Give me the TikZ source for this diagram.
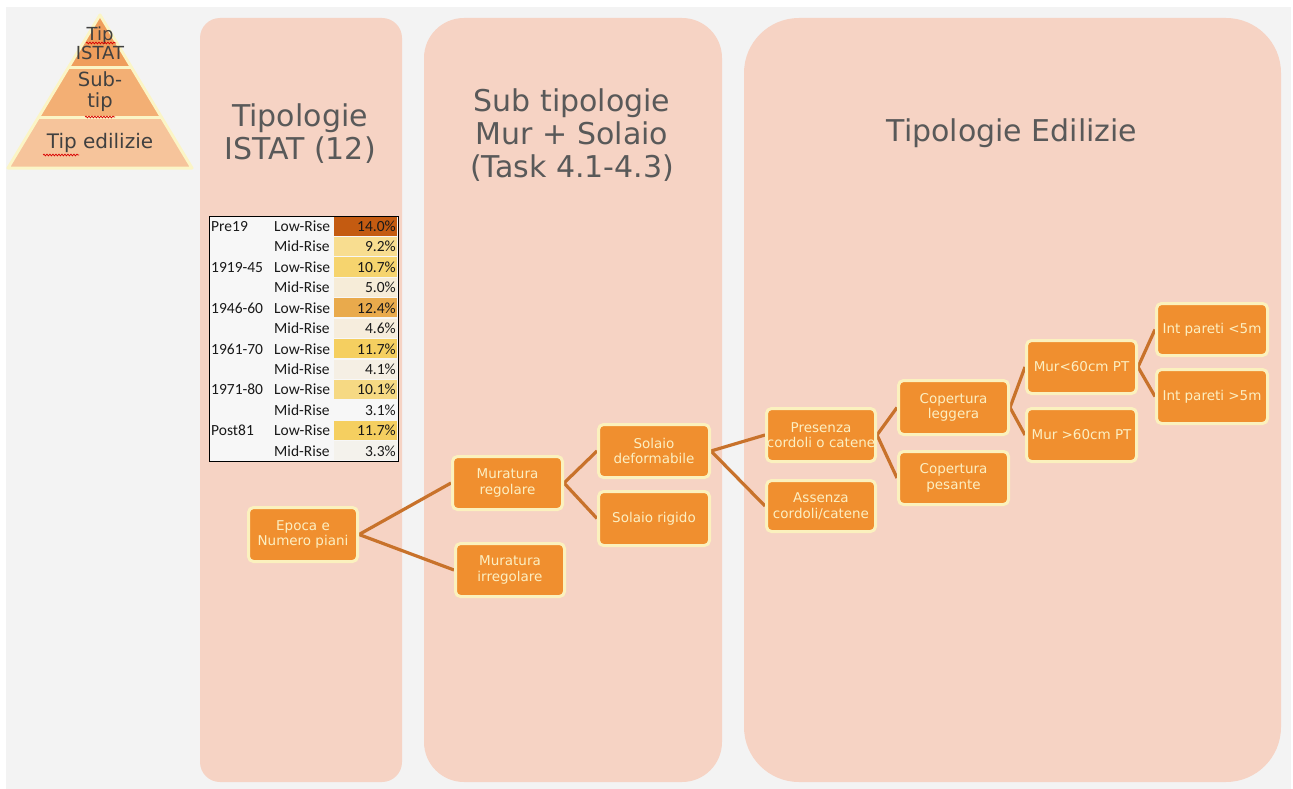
\documentclass[tikz,border=0pt]{standalone}
\usepackage{fontspec}
\setmainfont{DejaVu Sans}
\newfontfamily\tabfont{Carlito}
\usetikzlibrary{decorations.pathmorphing}
\pgfdeclarelayer{bg}
\pgfdeclarelayer{edges}
\pgfsetlayers{bg,edges,main}
\definecolor{pagebg}{HTML}{F3F3F3}
\definecolor{panelc}{HTML}{F6D3C4}
\definecolor{boxfill}{HTML}{F08F2F}
\definecolor{boxline}{HTML}{FBF1BE}
\definecolor{boxtext}{HTML}{FCEFC2}
\definecolor{conn}{HTML}{C8722B}
\definecolor{titletext}{HTML}{595959}
\definecolor{pyrtop}{HTML}{EF9E5C}
\definecolor{pyrmid}{HTML}{F3AF74}
\definecolor{pyrbot}{HTML}{F6C49B}
\definecolor{pyrline}{HTML}{FBF5C6}
\definecolor{pyrtext}{HTML}{404040}
\definecolor{tabbg}{HTML}{F7F7F7}
\definecolor{ha}{HTML}{C45B11}
\definecolor{hb}{HTML}{F8DD90}
\definecolor{hc}{HTML}{F6D46E}
\definecolor{hd}{HTML}{F6ECD8}
\definecolor{he}{HTML}{E9AA4C}
\definecolor{hf}{HTML}{F6EDDD}
\definecolor{hg}{HTML}{F5CF60}
\definecolor{hh}{HTML}{F5EFE4}
\definecolor{hi}{HTML}{F6D983}
\definecolor{hj}{HTML}{F7F7F7}
\definecolor{hk}{HTML}{F5CF60}
\definecolor{hl}{HTML}{F4F2EC}
\newcommand\bx[6]{\node[box, minimum width={#4-#2-3}, minimum height={#5-#3-3}] (#1) at ({(#2+#4)/2},{(#3+#5)/2}) {#6};}
\begin{document}
\begin{tikzpicture}[x=1pt,y=-1pt,
  panel/.style={fill=panelc, draw=none},
  box/.style={rounded corners=5pt, fill=boxfill, draw=boxline, line width=3pt, text=boxtext, align=center, inner sep=0pt, font=\fontsize{13.5}{15.5}\selectfont},
  link/.style={draw=conn, line width=3.2pt},
  ptitle/.style={text=titletext, align=center, font=\fontsize{30}{33}\selectfont},
  pyrlabel/.style={text=pyrtext, align=center, inner sep=0pt},
  tabtext/.style={font=\tabfont\fontsize{15.5}{17}\selectfont, text=black!90, inner sep=0pt},
  squig/.style={draw=red!85!black, line width=0.7pt, decorate, decoration={snake, amplitude=0.9pt, segment length=3pt}}
]
\useasboundingbox (0,0) rectangle (1293,789);
\begin{pgfonlayer}{bg}
\fill[white] (0,0) rectangle (1293,789);
\fill[pagebg] (6,7) rectangle (1291,789);
\fill[panel, rounded corners=20pt] (200,18) rectangle (402,782);
\fill[panel, rounded corners=40pt] (424,18) rectangle (722,782);
\fill[panel, rounded corners=55pt] (744,18) rectangle (1281,782);
\end{pgfonlayer}

% pyramid
\begin{scope}
\clip (100,15) -- (192,168) -- (8,168) -- cycle;
\fill[pyrtop] (0,10) rectangle (200,68);
\fill[pyrmid] (0,68) rectangle (200,118);
\fill[pyrbot] (0,118) rectangle (200,170);
\draw[pyrline, line width=3pt] (0,68) -- (200,68);
\draw[pyrline, line width=3pt] (0,118) -- (200,118);
\end{scope}
\draw[pyrline, line width=3pt, line join=round] (100,15) -- (192,168) -- (8,168) -- cycle;
\node[pyrlabel, font=\fontsize{18}{19}\selectfont] (p1) at (100,43) {Tip\\ISTAT};
\node[pyrlabel, font=\fontsize{19.5}{21}\selectfont] (p2) at (100,92) {Sub-\\tip};
\node[pyrlabel, font=\fontsize{20}{22}\selectfont] (p3) at (100,143) {Tip edilizie};
\draw[squig] (86,43) -- (116,43);
\draw[squig] (85,117) -- (115,117);
\draw[squig] (43,155) -- (79,155);

% titles
\node[ptitle] (t1) at (300,134) {Tipologie\\ISTAT (12)};
\node[ptitle] (t2) at (572,135) {Sub tipologie\\Mur + Solaio\\(Task 4.1-4.3)};
\node[ptitle] (t3) at (1012,133) {Tipologie Edilizie};

% table
\fill[tabbg] (209,216) rectangle (398,461);
\foreach \e/\l/\p/\c [count=\i] in {Pre19/Low-Rise/14.0\%/ha, /Mid-Rise/9.2\%/hb, 1919-45/Low-Rise/10.7\%/hc, /Mid-Rise/5.0\%/hd, 1946-60/Low-Rise/12.4\%/he, /Mid-Rise/4.6\%/hf, 1961-70/Low-Rise/11.7\%/hg, /Mid-Rise/4.1\%/hh, 1971-80/Low-Rise/10.1\%/hi, /Mid-Rise/3.1\%/hj, Post81/Low-Rise/11.7\%/hk, /Mid-Rise/3.3\%/hl}{
  \pgfmathsetmacro\ya{216+20.417*(\i-1)}
  \pgfmathsetmacro\yb{216+20.417*\i}
  \pgfmathsetmacro\yc{216+20.417*(\i-0.5)+5.3}
  \fill[\c] (334,\ya+0.6) rectangle (397,\yb-0.6);
  \node[tabtext, anchor=base west] (ep\i) at (211,\yc) {\e};
  \node[tabtext, anchor=base west] (lr\i) at (274,\yc) {\l};
  \node[tabtext, anchor=base east] (pc\i) at (396,\yc) {\p};
}
\draw[black, line width=1pt] (209,216) rectangle (398,461);

% boxes
\bx{epoca}{247}{506}{359}{563}{Epoca e\\Numero piani}
\bx{murreg}{451}{455}{564}{511}{Muratura\\regolare}
\bx{murirr}{454}{542}{566}{598}{Muratura\\irregolare}
\bx{soldef}{597}{423}{711}{479}{Solaio\\deformabile}
\bx{solrig}{597}{490}{711}{547}{Solaio rigido}
\bx{pres}{765}{407}{877}{463}{Presenza\\cordoli o catene}
\bx{ass}{765}{479}{877}{533}{Assenza\\cordoli/catene}
\bx{copleg}{897}{379}{1010}{436}{Copertura\\leggera}
\bx{coppes}{897}{450}{1010}{506}{Copertura\\pesante}
\bx{mura}{1025}{339}{1138}{395}{Mur<60cm PT}
\bx{murb}{1025}{407}{1138}{463}{Mur >60cm PT}
\bx{inta}{1155}{302}{1269}{357}{Int pareti <5m}
\bx{intb}{1155}{368}{1269}{425}{Int pareti >5m}

\begin{pgfonlayer}{edges}
\draw[link] (epoca.east) -- (murreg.west);
\draw[link] (epoca.east) -- (murirr.west);
\draw[link] (murreg.east) -- (soldef.west);
\draw[link] (murreg.east) -- (solrig.west);
\draw[link] (soldef.east) -- (pres.west);
\draw[link] (soldef.east) -- (ass.west);
\draw[link] (pres.east) -- (copleg.west);
\draw[link] (pres.east) -- (coppes.west);
\draw[link] (copleg.east) -- (mura.west);
\draw[link] (copleg.east) -- (murb.west);
\draw[link] (mura.east) -- (inta.west);
\draw[link] (mura.east) -- (intb.west);
\end{pgfonlayer}
\end{tikzpicture}
\end{document}
